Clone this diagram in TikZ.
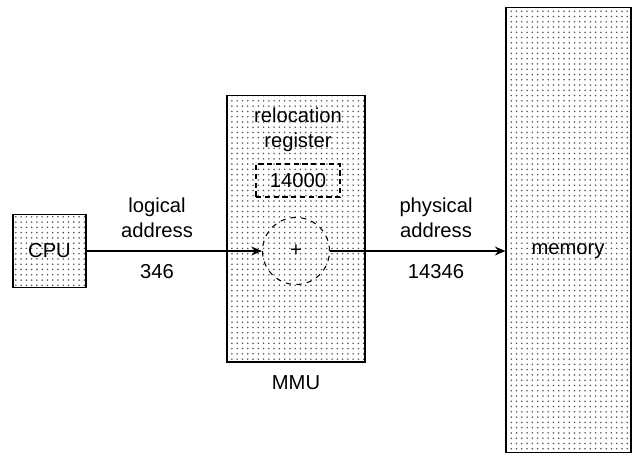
\documentclass[tikz,border=0pt]{standalone}
\usepackage{fontspec}
\setmainfont{Liberation Sans}
\usepackage{tikz}
\usetikzlibrary{positioning, arrows.meta, patterns}
\definecolor{mmudots}{HTML}{555555}

\begin{document}
\begin{tikzpicture}[x=0.02cm, y=-0.02cm, font=\fontsize{11.5}{14}\selectfont]

\useasboundingbox (0,0) rectangle (632,454);

% Styles
\tikzset{
  dotbox/.style={draw, semithick, pattern=dots, pattern color=mmudots, inner sep=0pt},
  regbox/.style={draw, semithick, densely dashed, inner sep=0pt},
  adder/.style={circle, draw, semithick, dashed, inner sep=0pt},
  lbl/.style={align=center, inner sep=1pt},
  link/.style={draw, line width=1pt, -{Stealth[length=6pt, width=5pt]}}
}

% CPU
\node[dotbox, minimum width=1.46cm, minimum height=1.46cm] (cpu) at (49.5,251) {CPU};

% MMU with relocation register and adder
\node[dotbox, minimum width=2.76cm, minimum height=5.34cm] (mmu) at (296,228.5) {};
\node[lbl] (reloc) at (298,130) {relocation\\register};
\node[regbox, minimum width=1.68cm, minimum height=0.66cm] (reg) at (298,180.5) {14000};
\node[adder, minimum size=1.34cm] (add) at (296,251) {+};
\node[lbl] (mmulbl) at (296,383) {MMU};

% Memory
\node[dotbox, minimum width=2.5cm, minimum height=8.92cm] (mem) at (568.5,230) {};
\node[lbl] (memlbl) at (568,251) {memory};

% Addresses
\draw[link] (cpu.east) -- (add.west);
\draw[link] (add.east) -- (add.east -| mem.west);

\node[lbl] (logical) at (157,217.5) {logical\\address};
\node[lbl] (logval) at (157,272) {346};
\node[lbl] (physical) at (436,217.5) {physical\\address};
\node[lbl] (physval) at (436,272) {14346};

\end{tikzpicture}
\end{document}
